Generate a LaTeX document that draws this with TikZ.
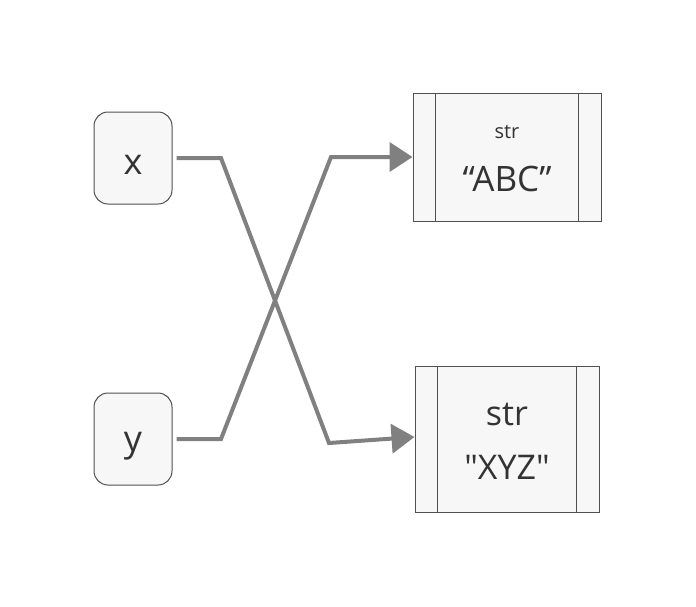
\documentclass[tikz,border=0pt]{standalone}
\usepackage{fontspec}
\setmainfont{Open Sans}
\usetikzlibrary{arrows.meta, positioning}
\definecolor{boxfill}{RGB}{247,247,247}
\definecolor{boxline}{RGB}{80,80,80}
\definecolor{refgray}{RGB}{128,128,128}
\definecolor{txt}{RGB}{51,51,51}

\tikzset{
  var/.style={draw=boxline, line width=1pt, fill=boxfill, rounded corners=14pt, minimum width=78pt, minimum height=92pt, inner sep=0pt, text height=33pt, text=txt, font=\fontsize{36}{40}\selectfont},
  obj/.style={draw=boxline, line width=1pt, fill=boxfill, minimum width=188pt, minimum height=128pt, inner sep=0pt, text=txt, align=center},
  ref/.style={draw=refgray, line width=4pt, -{Triangle[length=23pt,width=29pt]}}
}

\begin{document}
\begin{tikzpicture}[x=1pt, y=-1pt]
\useasboundingbox (0,0) rectangle (696,606);

%variables
\node[var] (x) at (133,158) {x};
\node[var] (y) at (133,439) {y};

%objects
\node[obj] (abc) at (507,157) {};
\node[obj, minimum width=184pt, minimum height=146pt] (xyz) at (507,439) {};
\draw[boxline, line width=1pt] ([xshift=23pt]abc.north west) -- ([xshift=23pt]abc.south west);
\draw[boxline, line width=1pt] ([xshift=-23pt]abc.north east) -- ([xshift=-23pt]abc.south east);
\draw[boxline, line width=1pt] ([xshift=23pt]xyz.north west) -- ([xshift=23pt]xyz.south west);
\draw[boxline, line width=1pt] ([xshift=-23pt]xyz.north east) -- ([xshift=-23pt]xyz.south east);
\node[text=txt, font=\fontsize{20}{24}\selectfont] (abctype) at (507,132) {str};
\node[text=txt, font=\fontsize{35}{40}\selectfont] (abcval) at (507,179) {“ABC”};
\node[text=txt, font=\fontsize{34}{38}\selectfont] (xyztype) at (507,414) {str};
\node[text=txt, font=\fontsize{34}{38}\selectfont] (xyzval) at (507,467) {\textquotedbl XYZ\textquotedbl};

%references
\coordinate (xa) at (221,158);
\coordinate (xb) at (329,443);
\coordinate (ya) at (221,439);
\coordinate (yb) at (331,157);
\draw[ref] ([xshift=4pt]x.east) -- (xa) -- (xb) -- ([yshift=2pt]xyz.west);
\draw[ref] ([xshift=4pt]y.east) -- (ya) -- (yb) -- (abc.west);

\end{tikzpicture}
\end{document}
